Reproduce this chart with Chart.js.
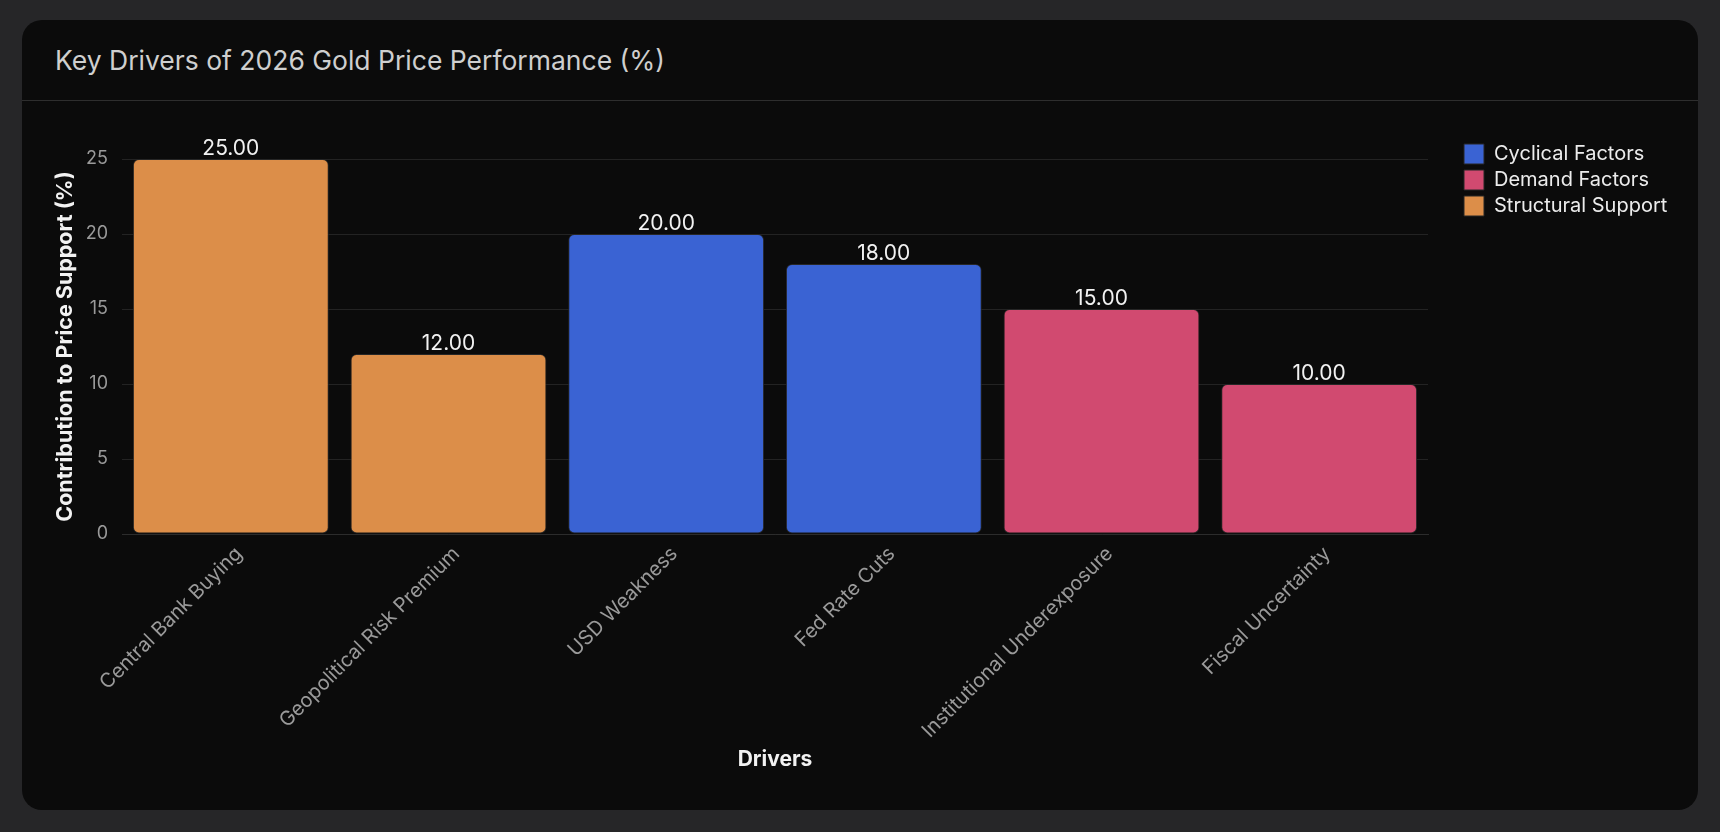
<!DOCTYPE html>
<html>
<head>
<meta charset="utf-8">
<script src="https://cdn.jsdelivr.net/npm/chart.js@4.4.0/dist/chart.umd.min.js"></script>
<style>
  html, body { margin: 0; padding: 0; width: 1720px; height: 832px; background: #262628; overflow: hidden; }
  .card { position: absolute; left: 22px; top: 20px; width: 1676px; height: 790px; background: #0b0b0b; border-radius: 20px; overflow: hidden; }
  .head { position: absolute; left: 0; top: 0; width: 100%; height: 80px; border-bottom: 1.5px solid #2e2e2e; }
  .title { position: absolute; left: 33px; top: 23px; font-family: Inter, "Noto Sans", sans-serif; font-size: 26.5px; font-weight: 400; color: #cfcfcf; line-height: 34px; white-space: nowrap; }
  .wrap { position: absolute; left: 0; top: 81px; width: 1676px; height: 709px; }
</style>
</head>
<body>
<div class="card">
  <div class="head"><div class="title">Key Drivers of 2026 Gold Price Performance (%)</div></div>
  <div class="wrap"><canvas id="c"></canvas></div>
</div>
<script>
const categories = ["Central Bank Buying", "Geopolitical Risk Premium", "USD Weakness", "Fed Rate Cuts", "Institutional Underexposure", "Fiscal Uncertainty"];
const seriesNames = ["Cyclical Factors", "Demand Factors", "Structural Support"];
const cyclicalValues = [null, null, 20, 18, null, null];
const demandValues = [null, null, null, null, 15, 10];
const structuralValues = [25, 12, null, null, null, null];
const yTicks = [0, 5, 10, 15, 20, 25];
const seriesColors = ["#3a63d3", "#d14a70", "#dc8e49"];

const FONT = "Inter, 'Noto Sans', sans-serif";

const valueLabels = {
  id: 'valueLabels',
  afterDatasetsDraw(chart) {
    const ctx = chart.ctx;
    ctx.save();
    ctx.font = "21px " + FONT;
    ctx.fillStyle = "#f2f2f2";
    ctx.textAlign = "center";
    ctx.textBaseline = "alphabetic";
    chart.data.datasets.forEach((ds, di) => {
      const meta = chart.getDatasetMeta(di);
      meta.data.forEach((el, i) => {
        const v = ds.data[i];
        if (v === null || v === undefined) return;
        ctx.fillText(v.toFixed(2), el.x, el.y - 4);
      });
    });
    ctx.restore();
  }
};

const legendShift = {
  id: 'legendShift',
  beforeUpdate(chart) {
    const lg = chart.legend;
    if (lg && !lg._patched) {
      const f = lg.fit;
      lg.fit = function () { f.call(this); this.width = 270; };
      lg._patched = true;
    }
  },
  afterLayout(chart) {
    const lg = chart.legend;
    if (lg) { lg.left += 30; lg.right += 30; lg.top -= 21; lg.bottom -= 21; }
  }
};

new Chart(document.getElementById('c'), {
  type: 'bar',
  data: {
    labels: categories,
    datasets: [
      { label: seriesNames[0], data: cyclicalValues, backgroundColor: seriesColors[0] },
      { label: seriesNames[1], data: demandValues, backgroundColor: seriesColors[1] },
      { label: seriesNames[2], data: structuralValues, backgroundColor: seriesColors[2] }
    ]
  },
  options: {
    responsive: true,
    maintainAspectRatio: false,
    animation: false,
    devicePixelRatio: 1,
    layout: { padding: { top: 58, left: 21, right: 0, bottom: 28 } },
    datasets: {
      bar: {
        borderWidth: 1,
        borderColor: '#262626',
        borderRadius: 6,
        borderSkipped: false,
        categoryPercentage: 1.0,
        barPercentage: 0.9
      }
    },
    plugins: {
      tooltip: { enabled: false },
      legend: {
        position: 'right',
        align: 'start',
        labels: {
          boxWidth: 20,
          boxHeight: 20,
          padding: 6,
          color: '#ececec',
          font: { family: FONT, size: 20 }
        }
      }
    },
    scales: {
      x: {
        stacked: true,
        grid: { display: false, drawTicks: false },
        border: { display: true, color: '#2c2c2c', dash: [2, 2] },
        ticks: { color: '#9a9a9a', font: { family: FONT, size: 20 }, minRotation: 45, maxRotation: 45, padding: 8, labelOffset: 8 },
        title: { display: true, text: 'Drivers', color: '#f2f2f2', font: { family: FONT, size: 21, weight: 'bold' }, padding: { top: 10, bottom: 10 } },
        afterFit(s) { s.height = 248; }
      },
      y: {
        stacked: true,
        min: 0,
        max: 25,
        afterBuildTicks(s) { s.ticks = yTicks.map(v => ({ value: v })); },
        grid: { color: 'rgba(255,255,255,0.1)', drawTicks: false },
        border: { display: false },
        ticks: { color: '#9a9a9a', font: { family: FONT, size: 18 }, padding: 14 },
        title: { display: true, text: 'Contribution to Price Support (%)', color: '#f2f2f2', font: { family: FONT, size: 21.5, weight: 'bold' }, padding: { top: 10, bottom: 10 } },
        afterFit(s) { s.width = 79; }
      }
    }
  },
  plugins: [valueLabels, legendShift]
});
</script>
</body>
</html>
